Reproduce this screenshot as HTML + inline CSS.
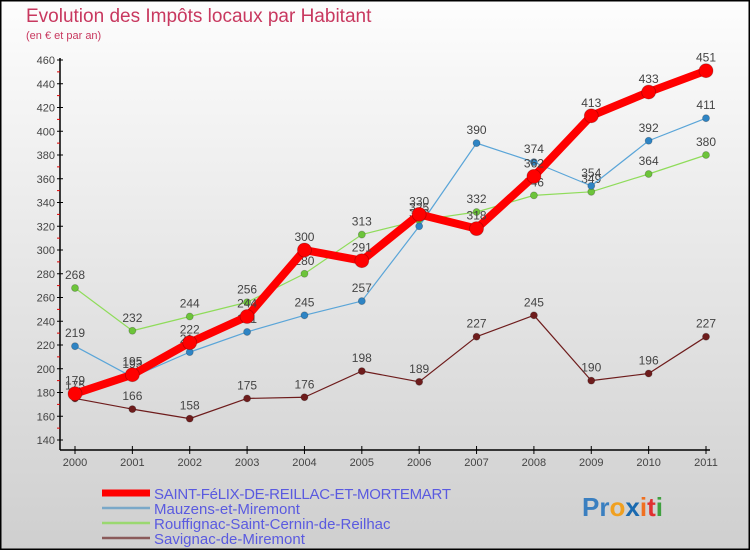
<!DOCTYPE html>
<html><head><meta charset="utf-8"><style>
html,body{margin:0;padding:0}
body{width:750px;height:550px;overflow:hidden;font-family:"Liberation Sans",sans-serif}
</style></head><body>
<svg id="chart" width="750" height="550" xmlns="http://www.w3.org/2000/svg">
<defs><linearGradient id="bg" x1="0" y1="0" x2="0" y2="1"><stop offset="0" stop-color="#fdfdfd"/><stop offset="1" stop-color="#cfcfcf"/></linearGradient></defs>
<rect x="0" y="0" width="750" height="550" fill="url(#bg)"/>
<rect x="0.5" y="0.5" width="749" height="549" fill="none" stroke="#000" stroke-width="2"/>
<text x="26" y="22" font-size="19" fill="#c8385f">Evolution des Impôts locaux par Habitant</text>
<text x="26" y="39" font-size="11" fill="#c8385f">(en € et par an)</text>
<g id="axes"></g><g id="series"></g><g id="legend"></g>
<text x="582" y="516" font-size="26" font-weight="bold"><tspan fill="#3a7fc0">Pr</tspan><tspan fill="#f0a020">o</tspan><tspan fill="#1a6ab0">x</tspan><tspan fill="#f07020">i</tspan><tspan fill="#e03030">t</tspan><tspan fill="#40a040">i</tspan></text>
</svg>
<script>
const years=["2000","2001","2002","2003","2004","2005","2006","2007","2008","2009","2010","2011"];
const yTicks=[140,160,180,200,220,240,260,280,300,320,340,360,380,400,420,440,460];
const stFelix=[179,195,222,244,300,291,330,318,362,413,433,451];
const mauzens=[219,193,214,231,245,257,320,390,374,354,392,411];
const rouffignac=[268,232,244,256,280,313,325,332,346,349,364,380];
const savignac=[175,166,158,175,176,198,189,227,245,190,196,227];
const names=["SAINT-FéLIX-DE-REILLAC-ET-MORTEMART","Mauzens-et-Miremont","Rouffignac-Saint-Cernin-de-Reilhac","Savignac-de-Miremont"];
const NS="http://www.w3.org/2000/svg";
const x=i=>75+i*(706-75)/11;
const y=v=>440-(v-140)*380/320;
function mk(tag,attrs,parent){const e=document.createElementNS(NS,tag);for(const k in attrs)e.setAttribute(k,attrs[k]);parent.appendChild(e);return e;}
const ax=document.getElementById('axes');
let l=mk('line',{x1:60,y1:58,x2:60,y2:450,stroke:'#000','stroke-width':1.5},ax);


l=mk('line',{x1:60,y1:450,x2:710,y2:450,stroke:'#000','stroke-width':1.5},ax);


yTicks.forEach((v,i)=>{
 mk('line',{x1:57,y1:y(v),x2:63,y2:y(v),stroke:'#000'},ax);
 if(i<yTicks.length-1)mk('line',{x1:57,y1:y(v+10),x2:60,y2:y(v+10),stroke:'#d00'},ax);
 const t=mk('text',{x:55,y:y(v)+4,'font-size':11,fill:'#444','text-anchor':'end'},ax);
 t.textContent=v;
 
 
});
years.forEach((yr,i)=>{
 mk('line',{x1:x(i),y1:446,x2:x(i),y2:454,stroke:'#000'},ax);
 const t=mk('text',{x:x(i),y:466,'font-size':11,fill:'#444','text-anchor':'middle'},ax);
 t.textContent=yr;
 
 
});
const sg=document.getElementById('series');
const defs=[[savignac,'#6e1c1c','#6e1c1c',1.2,3.5,'savignac'],[rouffignac,'#8fdc5a','#6cc43a',1.2,3.5,'rouffignac'],[mauzens,'#5aa5d8','#2e84c4',1.2,3.5,'mauzens'],[stFelix,'#ff0000','#ff0000',8,7,'st-felix']];
defs.forEach(([d,lc,pc,w,r,nm])=>{
 const g=mk('g',{},sg);
 
 
 const p=mk('polyline',{points:d.map((v,i)=>x(i)+','+y(v)).join(' '),fill:'none',stroke:lc,'stroke-width':w,'stroke-linejoin':'round'},g);
 
 
 d.forEach((v,i)=>{
  const c=mk('circle',{cx:x(i),cy:y(v),r:r,fill:pc,stroke:'rgba(0,0,0,0.25)','stroke-width':0.8},g);
  
  
  const t=mk('text',{x:x(i),y:y(v)-9,'font-size':12,fill:'#444','text-anchor':'middle'},g);
  t.textContent=v;
  
  
 });
});
const lg=document.getElementById('legend');
const lcol=['#ff0000','#7aa8c8','#9ad870','#8a5a5a'];
const lw=[7,2.5,2.5,2.5];
names.forEach((n,i)=>{
 const yy=493+i*15;
 const ln=mk('line',{x1:102,y1:yy,x2:150,y2:yy,stroke:lcol[i],'stroke-width':lw[i]},lg);
 
 
 const t=mk('text',{x:154,y:yy+6,'font-size':15,fill:'#5a5ae0','textLength':i==0?297:0},lg);
 if(i!=0)t.removeAttribute('textLength');
 t.textContent=n;
 
 
});
</script>
</body></html>
